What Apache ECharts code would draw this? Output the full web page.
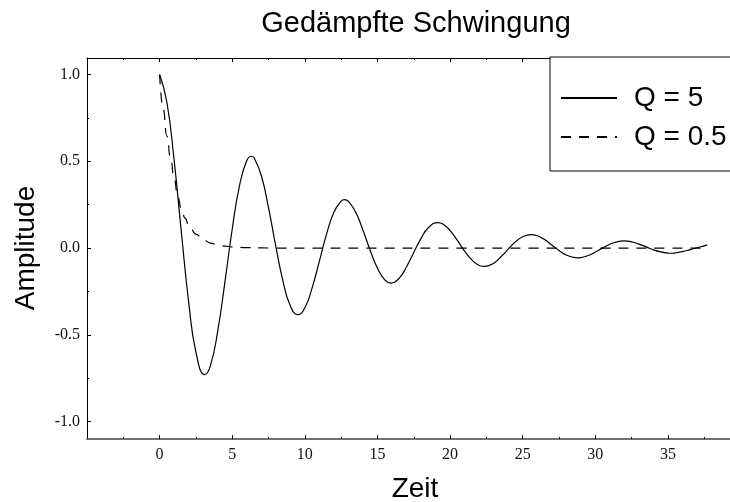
<!DOCTYPE html>
<html><head><meta charset="utf-8">
<script src="https://cdn.jsdelivr.net/npm/echarts@6/dist/echarts.min.js"></script>
<style>html,body{margin:0;padding:0;background:#fff}#c{width:730px;height:502px}</style>
</head><body><div id="c"></div>
<script>
// Q = 5 (solid): times and amplitudes (extrema included)
const tQ5 = [0,0.5,1,1.5,2,2.5,3.105,3.5,4,4.5,
  5,5.5,6,6.314,6.5,7,7.5,8,8.5,9,9.523,
  10,10.5,11,11.5,12,12.5,12.732,13,13.5,14,14.5,
  15,15.5,15.94,16.5,17,17.5,18,18.5,19.149,19.5,
  20,20.5,21,21.5,22,22.358,23,23.5,24,24.5,
  25,25.567,26,26.5,27,27.5,28,28.5,28.776,29,29.5,
  30,30.5,31,31.5,31.985,32.5,33,33.5,34,34.5,
  35,35.194,35.5,36,36.5,37,37.5,37.7];
const yQ5 = [1.000,0.840,0.505,0.088,-0.310,-0.599,-0.729,-0.677,-0.478,-0.193,
  0.110,0.360,0.504,0.529,0.520,0.418,0.231,0.010,-0.193,-0.333,-0.384,
  -0.344,-0.229,-0.075,0.082,0.206,0.271,0.279,0.269,0.206,0.103,-0.014,
  -0.116,-0.183,-0.202,-0.173,-0.108,-0.025,0.056,0.117,0.147,0.138,
  0.101,0.044,-0.017,-0.068,-0.100,-0.106,-0.087,-0.050,-0.006,0.036,
  0.065,0.077,0.071,0.049,0.018,-0.014,-0.040,-0.054,-0.056,-0.055,-0.043,
  -0.023,0.001,0.022,0.036,0.041,0.036,0.023,0.007,-0.010,-0.022,
  -0.029,-0.030,-0.028,-0.021,-0.010,0.002,0.013,0.018];
// Q = 0.5 (dashed)
const tQ05 = [0,0.25,0.5,0.75,1,1.25,1.5,1.75,2,2.5,3,3.5,4,4.5,5,6,7,8,10,15,20,25,30,35,37.7];
const yQ05 = [1,0.80,0.645,0.52,0.40,0.295,0.225,0.172,0.134,0.08,0.048,0.029,0.018,0.011,0.007,0.003,0.001,0,0,0,0,0,0,0,0];

const seriesNames = ['Q = 5', 'Q = 0.5'];
const xMajorTicks = [0,5,10,15,20,25,30,35];
const xMinorTicks = [-2.5,2.5,7.5,12.5,17.5,22.5,27.5,32.5,37.5];
const yMajorTicks = [-1,-0.5,0,0.5,1];
const yMinorTicks = [-0.75,-0.25,0.25,0.75];

const X_MIN = -5, X_MAX = 39.27, Y_MIN = -1.1, Y_MAX = 1.095;
const serif = 'Liberation Serif', sans = 'Liberation Sans';

function pairs(t, y){ return t.map((v,i)=>[v,y[i]]); }

function xAx(pos, ticks, len, showLine, labels, lineColor, lineWidth){
  return {
    type:'value', position:pos, min:X_MIN, max:X_MAX,
    splitLine:{show:false},
    axisLine:{show:showLine, onZero:false, lineStyle:{color:lineColor||'#000', width:lineWidth||1}},
    axisTick:{show:true, inside:true, length:len, customValues:ticks, lineStyle:{color:'#000', width:1}},
    axisLabel:labels ? {show:true, customValues:ticks, fontFamily:serif, fontSize:16, color:'#111', margin:8} : {show:false}
  };
}
function yAx(ticks, len, showLine, labels){
  return {
    type:'value', position:'left', min:Y_MIN, max:Y_MAX,
    splitLine:{show:false},
    axisLine:{show:showLine, onZero:false, lineStyle:{color:'#000', width:1}},
    axisTick:{show:true, inside:true, length:len, customValues:ticks, lineStyle:{color:'#000', width:1}},
    axisLabel:labels ? {show:true, customValues:ticks, fontFamily:serif, fontSize:16, color:'#111', margin:7,
      formatter:v=>Number(v).toFixed(1)} : {show:false}
  };
}

const chart = echarts.init(document.getElementById('c'), null, {renderer:'canvas'});
chart.setOption({
  backgroundColor:'#fff',
  animation:false,
  grid:{left:87, right:0, top:58, bottom:63, containLabel:false},
  xAxis:[
    xAx('bottom', xMajorTicks, 4, true, true, '#444', 1.5),
    xAx('bottom', xMinorTicks, 2, false, false),
    xAx('top', xMajorTicks, 4, true, false, '#000', 1),
    xAx('top', xMinorTicks, 2, false, false)
  ],
  yAxis:[
    yAx(yMajorTicks, 4, true, true),
    yAx(yMinorTicks, 2, false, false)
  ],
  legend:{
    orient:'vertical', left:550, top:57,
    padding:[27, 60, 20, 10],
    itemWidth:56, itemHeight:26, itemGap:11,
    borderColor:'#000', borderWidth:1, backgroundColor:'#fff',
    selectedMode:false,
    itemStyle:{opacity:0, borderWidth:0},
    textStyle:{fontFamily:sans, fontSize:28, color:'#000', padding:[0,0,0,12]},
    data:seriesNames
  },
  series:[
    {name:seriesNames[0], type:'line', data:pairs(tQ5,yQ5), symbol:'none', smooth:true,
     lineStyle:{color:'#000', width:1.2}, itemStyle:{color:'#000'}},
    {name:seriesNames[1], type:'line', data:pairs(tQ05,yQ05), symbol:'none', smooth:true, smoothMonotone:'x',
     lineStyle:{color:'#000', width:1.2, type:[10,8]}, itemStyle:{color:'#000'}}
  ],
  graphic:[
    {type:'text', x:416, y:24, style:{text:'Gedämpfte Schwingung', fontFamily:sans, fontSize:29, fill:'#000', textAlign:'center', textVerticalAlign:'middle'}},
    {type:'text', x:415, y:489, style:{text:'Zeit', fontFamily:sans, fontSize:28, fill:'#000', textAlign:'center', textVerticalAlign:'middle'}},
    {type:'text', x:26, y:248, rotation:Math.PI/2, style:{text:'Amplitude', fontFamily:sans, fontSize:28, fill:'#000', textAlign:'center', textVerticalAlign:'middle'}}
  ]
});
</script></body></html>
